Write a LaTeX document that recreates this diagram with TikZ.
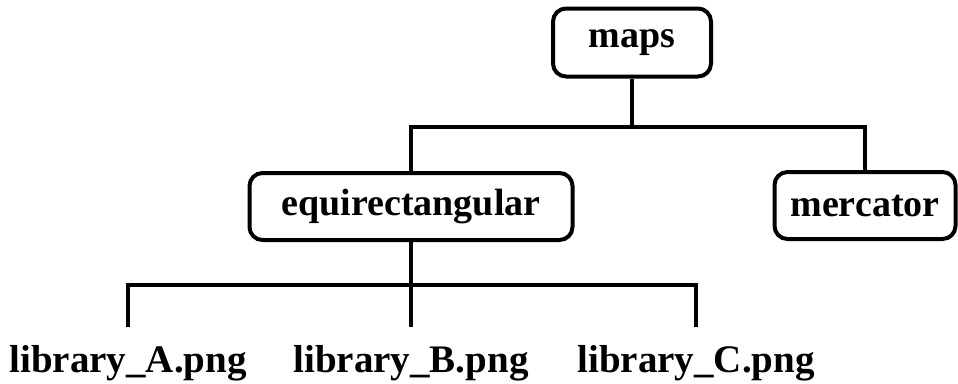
\documentclass[tikz,border=0pt]{standalone}
\usepackage{fontspec}
\setmainfont{Liberation Serif}
\begin{document}
\begin{tikzpicture}[x=1pt,y=1pt,
  box/.style={draw=black, line width=4pt, rounded corners=13pt, fill=white,
    minimum height=67pt, inner sep=0pt, font=\fontsize{38}{44}\selectfont\bfseries},
  leaf/.style={anchor=base, inner xsep=0pt, inner ysep=19pt, text height=26pt,
    font=\fontsize{39}{44}\selectfont\bfseries},
  conn/.style={line width=4pt}]
\useasboundingbox (0,0) rectangle (958,-383);
\node[box, minimum width=158pt, minimum height=68pt] (maps) at (632,-42.5) {maps};
\node[box, minimum width=323pt] (eq) at (411,-206.5) {equirectangular};
\node[box, minimum width=181pt] (merc) at (865,-205.5) {mercator};
\node[leaf] (la) at (128,-372) {library\_A.png};
\node[leaf] (lb) at (411,-372) {library\_B.png};
\node[leaf] (lc) at (696,-372) {library\_C.png};
\coordinate (j1) at (632,-127);
\coordinate (j2) at (411,-285);
\draw[conn] (maps.south) -- (j1);
\draw[conn] (eq.north) |- (j1) -| (merc.north);
\draw[conn] (eq.south) -- (j2);
\draw[conn] (la.north) |- (j2) -| (lc.north);
\draw[conn] (lb.north) -- (j2);
\end{tikzpicture}
\end{document}
